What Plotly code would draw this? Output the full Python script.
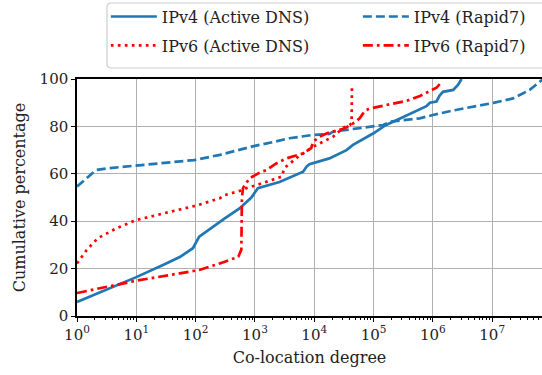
import plotly.graph_objects as go

# ---- data ----
v4_active_x = [1, 3, 10, 30, 55, 90, 115, 310, 550, 870, 1000, 1120, 2600, 6500, 7400, 8300,
               18000, 35000, 45000, 98000, 160000, 350000, 470000, 780000, 890000, 1150000,
               1300000, 1480000, 2200000, 2650000, 3050000]
v4_active_y = [5.9, 10.9, 16.4, 21.8, 25.0, 28.6, 33.5, 41.2, 45.4, 50.0, 52.0, 53.9, 56.5, 60.9,
               63.0, 64.0, 66.5, 70.0, 72.2, 77.0, 80.5, 84.4, 86.0, 88.5, 90.0, 90.5,
               93.0, 94.6, 95.4, 97.5, 100.0]

v4_rapid7_x = [1, 2.1, 3.2, 10, 54, 95, 257, 1000, 2140, 3800, 9500, 18000, 21000, 145000, 190000,
               600000, 1000000, 1300000, 2000000, 3700000, 10500000, 22400000, 43000000, 69000000,
               76000000]
v4_rapid7_y = [54.6, 61.6, 62.3, 63.4, 65.1, 65.8, 68.0, 71.8, 73.5, 75.0, 76.4, 76.8, 77.8, 80.6,
               82.0, 83.4, 84.8, 85.5, 86.5, 87.8, 89.9, 91.8, 95.4, 99.6, 100.0]

v6_active_x = [1, 1.45, 2.24, 4.6, 10, 36, 110, 257, 309, 630, 725, 1000, 2040, 2820, 3160, 3890,
               5370, 9550, 12300, 20900, 30900, 39800, 42700, 43200]
v6_active_y = [22.2, 27.8, 32.8, 37.0, 40.5, 44.0, 46.8, 49.7, 51.0, 53.2, 54.0, 55.0, 57.4, 58.8,
               62.5, 64.4, 67.2, 71.4, 72.8, 75.7, 79.5, 80.5, 81.6, 97.8]

v6_rapid7_x = [1, 10, 54, 115, 310, 490, 525, 590, 603, 630, 810, 1290, 1550, 2290, 3390, 6460,
               8900, 9550, 12300, 18200, 31600, 47900, 58900, 70800, 85100, 186000, 355000,
               603000, 891000, 1150000, 1320000]
v6_rapid7_y = [9.7, 14.9, 18.0, 19.4, 22.9, 24.5, 25.0, 28.0, 50.0, 54.0, 58.1, 60.9, 61.5, 64.4,
               66.5, 68.6, 70.8, 73.5, 75.7, 77.5, 79.0, 81.6, 83.5, 86.5, 87.5, 89.3, 90.7,
               92.8, 94.9, 96.3, 98.0]

x_tick_vals = [1, 10, 100, 1000, 10000, 100000, 1000000, 10000000]
x_tick_text = ["10<sup>0</sup>", "10<sup>1</sup>", "10<sup>2</sup>", "10<sup>3</sup>",
               "10<sup>4</sup>", "10<sup>5</sup>", "10<sup>6</sup>", "10<sup>7</sup>"]
y_tick_vals = [0, 20, 40, 60, 80, 100]

BLUE = "#1f77b4"
RED = "#ff0000"
FONT = "DejaVu Serif"
TXT = "#222222"

fig = go.Figure()
fig.add_trace(go.Scatter(x=v4_active_x, y=v4_active_y, mode="lines", name="IPv4 (Active DNS)",
                         legend="legend", legendgroup="a",
                         line=dict(color=BLUE, width=2.7, dash="solid")))
fig.add_trace(go.Scatter(x=v4_rapid7_x, y=v4_rapid7_y, mode="lines", name="IPv4 (Rapid7)",
                         legend="legend2", legendgroup="c",
                         line=dict(color=BLUE, width=2.7, dash="9px,4px")))
fig.add_trace(go.Scatter(x=v6_active_x, y=v6_active_y, mode="lines", name="IPv6 (Active DNS)",
                         legend="legend", legendgroup="b",
                         line=dict(color=RED, width=2.7, dash="2.7px,4.3px")))
fig.add_trace(go.Scatter(x=v6_rapid7_x, y=v6_rapid7_y, mode="lines", name="IPv6 (Rapid7)",
                         legend="legend2", legendgroup="d",
                         line=dict(color=RED, width=2.7, dash="10px,4px,2.7px,4px")))

minor_vals = [m * 10 ** d for d in range(0, 8) for m in range(2, 10)]

legend_common = dict(orientation="v", yanchor="top", y=1.335, xanchor="left",
                     bgcolor="rgba(0,0,0,0)", borderwidth=0,
                     font=dict(family=FONT, size=16, color=TXT),
                     itemwidth=46, tracegroupgap=5)

# legend frame (rounded rectangle) in paper coordinates
fx0, fx1, fy0, fy1 = 0.0645, 1.03, 1.0464, 1.3207
rx, ry = 0.009, 0.017
frame_path = (f"M {fx0+rx},{fy1} L {fx1},{fy1} L {fx1},{fy0} L {fx0+rx},{fy0} "
              f"Q {fx0},{fy0} {fx0},{fy0+ry} L {fx0},{fy1-ry} Q {fx0},{fy1} {fx0+rx},{fy1} Z")

fig.update_layout(
    width=542, height=375,
    margin=dict(l=77, r=0, t=79, b=59, autoexpand=False),
    paper_bgcolor="white", plot_bgcolor="white",
    font=dict(family=FONT, size=15, color=TXT),
    showlegend=True,
    legend=dict(x=0.062, **legend_common),
    legend2=dict(x=0.604, **legend_common),
    shapes=[dict(type="path", xref="paper", yref="paper", path=frame_path,
                 line=dict(color="#cccccc", width=1.2), fillcolor="rgba(255,255,255,0.8)",
                 layer="below")],
    xaxis=dict(
        type="log", range=[0, 7.84],
        tickmode="array", tickvals=x_tick_vals, ticktext=x_tick_text,
        ticks="outside", ticklen=4, tickwidth=1, tickcolor="black",
        showline=True, linecolor="black", linewidth=1.5, mirror=True,
        showgrid=True, gridcolor="#b0b0b0", gridwidth=1,
        zeroline=False,
        tickfont=dict(family=FONT, size=15, color=TXT),
        title=dict(text="Co-location degree", font=dict(family=FONT, size=16, color=TXT),
                   standoff=9),
        minor=dict(tickmode="array", tickvals=minor_vals, ticks="outside", ticklen=2,
                   tickcolor="black", tickwidth=1, showgrid=False),
    ),
    yaxis=dict(
        range=[0, 100],
        tickmode="array", tickvals=y_tick_vals,
        ticks="outside", ticklen=4, tickwidth=1, tickcolor="black",
        showline=True, linecolor="black", linewidth=1.5, mirror=False,
        showgrid=True, gridcolor="#b0b0b0", gridwidth=1,
        zeroline=False,
        tickfont=dict(family=FONT, size=15, color=TXT),
        title=dict(text="Cumulative percentage", font=dict(family=FONT, size=16, color=TXT),
                   standoff=10),
    ),
)

fig.write_html("out.html", config={"displayModeBar": False},
               post_script="document.body.style.margin='0';")
